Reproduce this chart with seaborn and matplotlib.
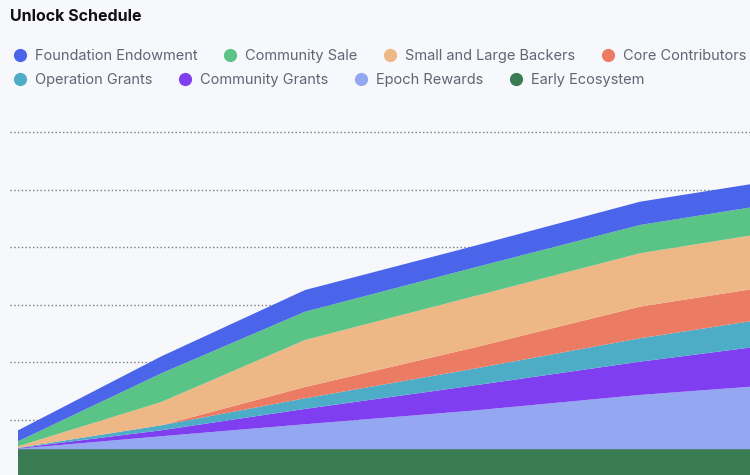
import numpy as np
import pandas as pd
import matplotlib
matplotlib.use("Agg")
import matplotlib.pyplot as plt
from matplotlib.lines import Line2D
import seaborn as sns

# ---- data (millions of tokens) ----
months = [0, 6, 12, 19, 26, 32]
early_ecosystem = [49, 49, 49, 49, 49, 49]
epoch_rewards = [1, 22.6, 43.4, 67, 94.3, 112.8]
community_grants = [1, 10.4, 26.7, 43.4, 57.8, 71.2]
operation_grants = [0.5, 8.7, 18.4, 29, 40.6, 47]
core_contributors = [0, 0, 19.6, 36.5, 54.9, 55.6]
backers = [2.6, 40.5, 81.6, 89, 92.7, 93.7]
community_sale = [8.7, 49.8, 49.1, 49.8, 49.1, 48.6]
foundation_endowment = [19, 29.5, 37.7, 37.5, 40.4, 40.4]

series_names = ["Early Ecosystem", "Epoch Rewards", "Community Grants", "Operation Grants",
                "Core Contributors", "Small and Large Backers", "Community Sale",
                "Foundation Endowment"]
series_values = [early_ecosystem, epoch_rewards, community_grants, operation_grants,
                 core_contributors, backers, community_sale, foundation_endowment]
colors = ["#3A7B54", "#94A7F1", "#7F3FF1", "#4DACC6",
          "#EC7B63", "#EDB886", "#5AC386", "#4A65EA"]

legend_row1 = ["Foundation Endowment", "Community Sale", "Small and Large Backers", "Core Contributors"]
legend_row2 = ["Operation Grants", "Community Grants", "Epoch Rewards", "Early Ecosystem"]

df = pd.DataFrame({"month": months})
for n, v in zip(series_names, series_values):
    df[n] = v

sns.set_theme(style="white")
plt.rcParams["font.family"] = ["Inter", "DejaVu Sans"]
bg = "#F7F8FC"

fig = plt.figure(figsize=(7.5, 4.75), dpi=100, facecolor=bg)
ax = fig.add_axes([10 / 750, 0, 740 / 750, (475 - 125) / 475])
ax.set_facecolor(bg)

palette = sns.color_palette(colors)
ax.stackplot(df["month"], *[df[n] for n in series_names], colors=palette,
             linewidth=0, zorder=2)

ax.set_xlim(-0.334, 30.6)
ax.set_ylim(4.3, 612)
ax.set_yticks([100, 200, 300, 400, 500, 600])
ax.yaxis.grid(True, color="#7a7a7a", linewidth=1.0, linestyle=(0, (1, 1.7)), zorder=0)
ax.xaxis.grid(False)
ax.set_axisbelow(True)
ax.tick_params(left=False, bottom=False, labelleft=False, labelbottom=False)
for s in ax.spines.values():
    s.set_visible(False)

fig.text(10 / 750, 1 - 16.5 / 475, "Unlock Schedule", ha="left", va="center",
         fontsize=11.5, fontweight="bold", color="#111111")

cmap = dict(zip(series_names, colors))
fs = 10.5
for row, yc in ((legend_row1, 56), (legend_row2, 80)):
    handles = [Line2D([0], [0], marker="o", linestyle="", markersize=9.5,
                      markerfacecolor=cmap[n], markeredgewidth=0) for n in row]
    fig.legend(handles, row, loc="center left",
               bbox_to_anchor=(12.7 / 750, 1 - yc / 475),
               ncol=4, frameon=False, fontsize=fs, labelcolor="#5F6673",
               handlelength=1.0, handletextpad=0.53, columnspacing=1.74,
               borderpad=0, borderaxespad=0)

fig.savefig("out.png", dpi=100, facecolor=bg)
